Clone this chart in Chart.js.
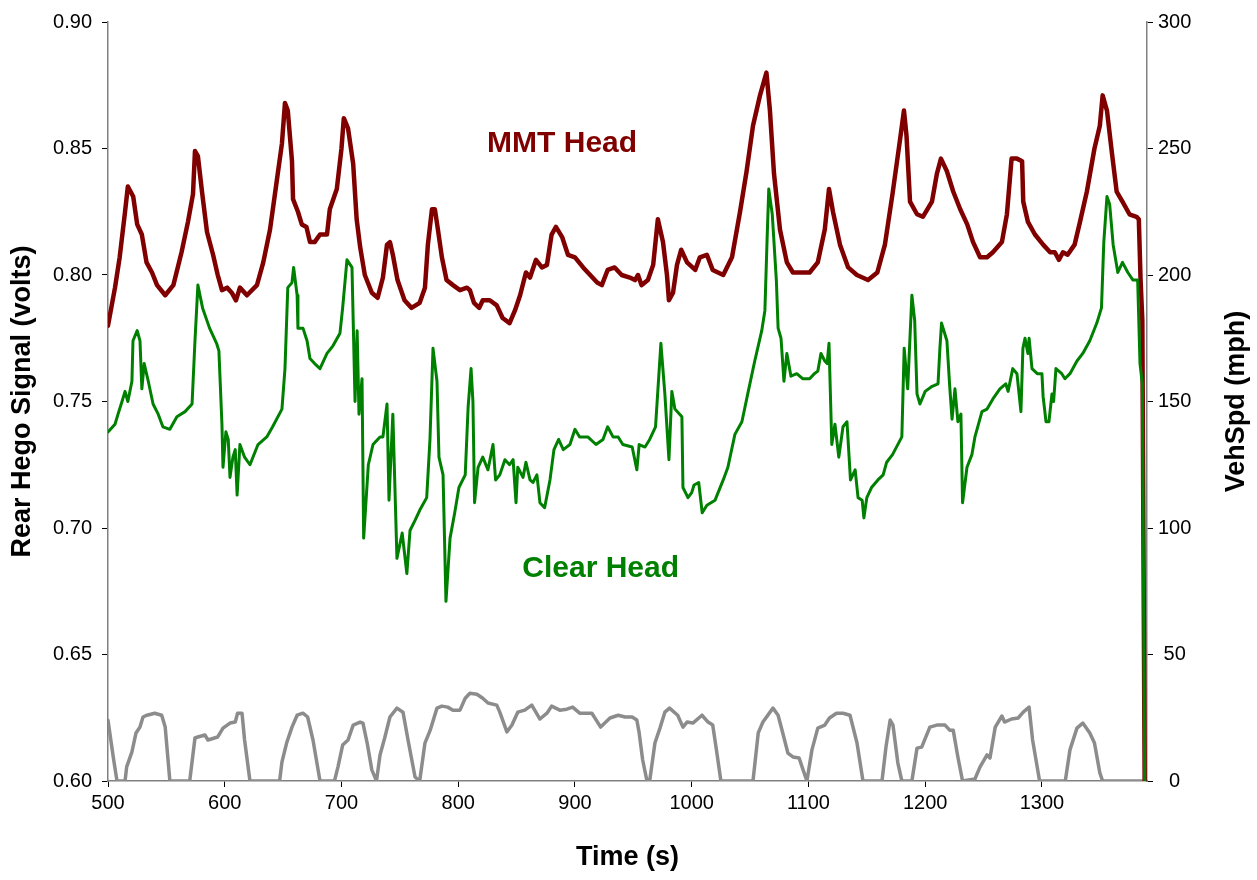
<!DOCTYPE html>
<html>
<head>
<meta charset="utf-8">
<script src="https://cdn.jsdelivr.net/npm/chart.js@4.4.1/dist/chart.umd.min.js"></script>
<style>
  html, body { margin: 0; padding: 0; background: #fff; }
</style>
</head>
<body>
<canvas id="hegoChart" width="1257" height="880"></canvas>
<script>
// axis tick values
var timeTicks = [500, 600, 700, 800, 900, 1000, 1100, 1200, 1300];

// MMT Head rear hego (volts)
var mmtTime = [500, 506, 510, 514.6, 517, 521.6, 525, 529, 533, 537.7, 542, 549, 556, 563, 568.5, 572.8, 574.5, 577, 580.5, 584.8,
  590, 594, 597.6, 602, 606, 609.6, 613, 619, 627.6, 633, 638.8, 644.8, 649, 651.6, 654, 657.6, 658.5, 662.7, 666, 670,
  673, 677, 681.6, 687.6, 690, 696, 700, 702, 705.6, 710, 713, 716, 720, 726, 731, 735.5, 739, 741.5, 744, 748,
  754, 760, 767, 771.5, 774, 777.5, 780, 782.6, 786, 790, 795.5, 801.5, 807.5, 810, 813.5, 818, 821, 827, 833, 838,
  844, 848.6, 853, 858, 861.5, 866.6, 871.7, 876, 880, 883.7, 889, 894, 900, 907, 913, 919, 923, 928, 934, 940,
  947, 951.4, 954, 957, 962.5, 967, 971, 975.4, 978.8, 980.5, 984, 987.4, 991, 996, 1003, 1007, 1013, 1018, 1022.5, 1027,
  1034.5, 1041.4, 1047, 1052.5, 1058.5, 1064, 1067, 1070.5, 1075.6, 1081.5, 1086.7, 1095, 1101, 1108, 1114, 1117.6, 1121, 1127, 1134, 1141.5,
  1151, 1159, 1165.5, 1172, 1178, 1181.8, 1184, 1187, 1193, 1198, 1205.8, 1210, 1213.5, 1218.6, 1224, 1230, 1236, 1241, 1247, 1253,
  1258, 1265.7, 1270, 1274, 1278.6, 1283, 1284, 1288, 1294, 1301, 1307, 1311, 1314.6, 1318, 1322, 1328, 1332.6, 1338.5, 1345, 1349.6,
  1352, 1355.7, 1360, 1364, 1369, 1375, 1381, 1383, 1384.5, 1386, 1388];
var mmtVolts = [0.780, 0.795, 0.807, 0.825, 0.835, 0.831, 0.820, 0.816, 0.805, 0.801, 0.796, 0.792, 0.796, 0.809, 0.821, 0.832, 0.849, 0.847, 0.833, 0.817,
  0.808, 0.800, 0.794, 0.795, 0.793, 0.790, 0.795, 0.792, 0.796, 0.805, 0.818, 0.838, 0.852, 0.868, 0.865, 0.845, 0.830, 0.825, 0.820, 0.819,
  0.813, 0.813, 0.816, 0.816, 0.826, 0.834, 0.850, 0.862, 0.858, 0.844, 0.822, 0.811, 0.800, 0.793, 0.791, 0.799, 0.812, 0.813, 0.808, 0.798,
  0.790, 0.787, 0.789, 0.795, 0.812, 0.826, 0.826, 0.818, 0.807, 0.798, 0.796, 0.794, 0.795, 0.794, 0.789, 0.787, 0.790, 0.790, 0.788, 0.783,
  0.781, 0.786, 0.792, 0.801, 0.799, 0.806, 0.803, 0.804, 0.816, 0.819, 0.815, 0.808, 0.807, 0.803, 0.800, 0.797, 0.796, 0.802, 0.803, 0.800,
  0.799, 0.798, 0.800, 0.796, 0.798, 0.804, 0.822, 0.813, 0.800, 0.790, 0.793, 0.804, 0.810, 0.805, 0.802, 0.807, 0.808, 0.802, 0.801, 0.800,
  0.807, 0.825, 0.841, 0.859, 0.871, 0.880, 0.865, 0.840, 0.818, 0.805, 0.801, 0.801, 0.801, 0.805, 0.818, 0.834, 0.825, 0.812, 0.803, 0.800,
  0.798, 0.801, 0.812, 0.832, 0.852, 0.865, 0.855, 0.829, 0.824, 0.823, 0.829, 0.840, 0.846, 0.841, 0.833, 0.826, 0.820, 0.813, 0.807, 0.807,
  0.809, 0.813, 0.824, 0.846, 0.846, 0.845, 0.829, 0.821, 0.816, 0.812, 0.809, 0.809, 0.806, 0.809, 0.808, 0.812, 0.821, 0.833, 0.850, 0.859,
  0.871, 0.865, 0.848, 0.833, 0.829, 0.824, 0.823, 0.822, 0.798, 0.782, 0.600];

// Clear Head rear hego (volts)
var clearTime = [500, 506, 508.6, 512, 514.6, 517, 520.5, 521.4, 525, 527.4, 529, 531, 534.5, 538.6, 543, 547, 553, 559, 566, 572,
  574.5, 577, 581, 587, 593, 595, 597.6, 598.5, 601, 603, 604.5, 607, 609, 610.6, 613, 617, 621.6, 628.5, 636, 641,
  649, 651.6, 654, 657.6, 659, 662, 662.7, 667, 670.5, 673, 677, 681.6, 687.6, 692.7, 698.7, 701, 704.7, 709, 711.6, 713.4,
  715, 717.6, 719, 723, 727, 733, 735.5, 739, 740.7, 744, 747.5, 752, 756, 758.7, 763, 767, 773, 775.8, 778.4, 781.8,
  783.5, 787, 789.5, 793, 797, 800.6, 806, 808.5, 811, 812.6, 814, 817, 821, 825.5, 829.8, 832, 835.6, 840, 844, 847,
  849.5, 851, 855.5, 858, 861.5, 864, 867.4, 870, 874, 878.6, 882, 886, 890, 895.7, 900, 904, 911, 918, 924, 928,
  932.6, 937, 941, 949, 953, 955, 960, 964, 969, 973.6, 977, 980.5, 983, 985.6, 991.6, 992.5, 996.8, 1000, 1002, 1006,
  1009, 1013, 1020, 1027, 1031, 1037, 1043, 1048, 1054, 1060, 1062.7, 1064.5, 1066, 1069, 1072.5, 1074, 1076.5, 1079, 1081.5, 1085,
  1090, 1095, 1101, 1105, 1108, 1110.7, 1114, 1116, 1117.6, 1120, 1122.7, 1126, 1129.6, 1133, 1136, 1140, 1142.5, 1146, 1147.5, 1150,
  1154, 1159.5, 1164, 1167, 1172, 1180, 1182, 1185, 1188.6, 1191, 1193, 1195.5, 1200, 1206, 1211, 1212.6, 1214, 1218.6, 1221, 1223,
  1225.5, 1228, 1230.6, 1232, 1235.8, 1240, 1242.6, 1245, 1248.6, 1253, 1258, 1264, 1269, 1271, 1275, 1278.6, 1282, 1283.7, 1285.5, 1288,
  1289, 1291.5, 1296, 1300, 1301, 1303.5, 1306, 1308.6, 1310, 1312, 1317, 1319.7, 1324, 1330, 1335, 1341, 1347, 1351, 1353, 1355.7,
  1358, 1361, 1365, 1369, 1373.6, 1378, 1382, 1384, 1386, 1388];
var clearVolts = [0.738, 0.741, 0.745, 0.750, 0.754, 0.750, 0.758, 0.774, 0.778, 0.774, 0.755, 0.765, 0.758, 0.749, 0.745, 0.740, 0.739, 0.744, 0.746, 0.749,
  0.774, 0.796, 0.787, 0.779, 0.773, 0.770, 0.741, 0.724, 0.738, 0.735, 0.720, 0.728, 0.731, 0.713, 0.733, 0.728, 0.725, 0.733, 0.736, 0.740,
  0.747, 0.763, 0.795, 0.797, 0.803, 0.792, 0.779, 0.779, 0.774, 0.767, 0.765, 0.763, 0.769, 0.772, 0.777, 0.787, 0.806, 0.803, 0.750, 0.778,
  0.745, 0.759, 0.696, 0.725, 0.733, 0.736, 0.736, 0.749, 0.711, 0.745, 0.688, 0.698, 0.682, 0.699, 0.703, 0.707, 0.712, 0.735, 0.771, 0.758,
  0.728, 0.721, 0.671, 0.696, 0.706, 0.716, 0.721, 0.748, 0.763, 0.750, 0.710, 0.724, 0.728, 0.723, 0.733, 0.719, 0.721, 0.727, 0.725, 0.727,
  0.710, 0.724, 0.720, 0.726, 0.719, 0.718, 0.721, 0.710, 0.708, 0.719, 0.731, 0.735, 0.731, 0.733, 0.739, 0.736, 0.736, 0.733, 0.735, 0.740,
  0.736, 0.736, 0.733, 0.732, 0.723, 0.733, 0.732, 0.735, 0.740, 0.773, 0.753, 0.727, 0.754, 0.747, 0.744, 0.716, 0.712, 0.714, 0.717, 0.718,
  0.706, 0.709, 0.711, 0.719, 0.724, 0.737, 0.742, 0.753, 0.766, 0.778, 0.786, 0.813, 0.834, 0.824, 0.798, 0.779, 0.775, 0.758, 0.769, 0.760,
  0.761, 0.759, 0.759, 0.761, 0.762, 0.769, 0.766, 0.765, 0.773, 0.733, 0.741, 0.728, 0.740, 0.742, 0.719, 0.723, 0.712, 0.711, 0.704, 0.712,
  0.716, 0.719, 0.721, 0.726, 0.729, 0.736, 0.771, 0.755, 0.792, 0.782, 0.753, 0.749, 0.754, 0.756, 0.757, 0.771, 0.781, 0.774, 0.756, 0.743,
  0.755, 0.742, 0.745, 0.710, 0.724, 0.729, 0.736, 0.740, 0.746, 0.747, 0.751, 0.755, 0.757, 0.754, 0.763, 0.761, 0.746, 0.771, 0.775, 0.769,
  0.775, 0.763, 0.761, 0.761, 0.752, 0.742, 0.742, 0.753, 0.750, 0.763, 0.761, 0.759, 0.761, 0.766, 0.769, 0.774, 0.781, 0.787, 0.813, 0.831,
  0.828, 0.812, 0.801, 0.805, 0.801, 0.798, 0.798, 0.765, 0.757, 0.600];

// vehicle speed (mph), right axis
var speedTime = [500, 504.5, 507.7, 514.6, 516, 520.5, 524, 527.4, 530, 533.4, 540, 546, 549, 553, 570, 574.5, 577, 583, 585.6, 594,
  598.5, 604.5, 609, 611, 614.8, 617, 621.6, 647, 649, 653, 657.6, 662, 667, 671, 675.6, 681.6, 694, 697, 701, 705.6,
  710, 716, 718.4, 722, 726, 730, 733, 737, 741.5, 747.5, 752.7, 757, 763, 767, 771.5, 776, 781.8, 786, 791, 795.5,
  801.5, 806, 810, 816, 821, 825.5, 833, 835.6, 841.7, 846, 851, 857, 863, 870, 876, 880, 887, 893, 898, 904,
  914.5, 922, 930, 937, 943, 949, 953, 955, 958, 961.7, 964, 968.5, 972.8, 977, 981, 988, 992.5, 996, 1001, 1008.8,
  1014, 1018, 1021.6, 1025, 1052.5, 1057, 1061, 1069.6, 1074, 1078, 1082.4, 1086.7, 1092, 1095.4, 1098.7, 1103, 1108, 1114, 1118, 1124,
  1129.6, 1135.6, 1141.6, 1146.7, 1163, 1166.4, 1170, 1172.4, 1176.6, 1180, 1188.6, 1193, 1197, 1204, 1210, 1217, 1221, 1224, 1228, 1232,
  1242.6, 1247, 1253, 1255.5, 1260, 1265.7, 1268, 1274, 1279.6, 1284, 1289, 1292, 1298, 1320, 1324, 1330, 1335, 1341, 1345, 1349.6,
  1352, 1388];
var speedMph = [24, 9.5, 0, 0, 5.6, 11.5, 19, 21.3, 25.3, 26, 26.8, 26, 21.3, 0, 0, 17, 17.4, 18.2, 16.2, 17.4,
  20.9, 22.9, 23.3, 26.8, 26.8, 16.2, 0, 0, 7.5, 15, 21.3, 26, 26.8, 25.3, 16.2, 0, 0, 5.6, 14.2, 16.2,
  22.1, 23.3, 22.9, 15, 4.4, 0, 10.3, 17, 25.3, 28.8, 27.2, 16.2, 1.6, 0, 15, 20.1, 28.8, 29.6, 29.2, 28,
  28, 32.7, 34.7, 34.3, 32.7, 30.8, 30, 27.2, 19.4, 22.1, 27.2, 28, 30, 24.5, 26.8, 29.6, 28, 28.4, 29.2, 26.8,
  26.8, 21.3, 24.9, 26, 25.3, 25.3, 24.1, 19, 8.3, 0, 0, 15, 20.9, 27.2, 28.8, 26, 21.3, 23.3, 22.9, 26,
  23.3, 22.1, 11, 0, 0, 19, 23.3, 28.8, 26, 19, 11, 9.5, 9.1, 4.4, 0, 12.3, 20.9, 22.1, 24.9, 26.8,
  26.8, 26, 15, 0, 0, 13.4, 24.1, 22.1, 7.1, 0, 0, 13, 13.4, 21.3, 22.1, 22.1, 20.1, 20.1, 9.5, 0,
  0.8, 5.6, 10.3, 9.1, 21.3, 25.7, 23.3, 24.5, 24.9, 27.2, 29.2, 16.2, 0, 0, 12.3, 20.9, 22.9, 19, 15, 3.2,
  0, 0];

function toPoints(xs, ys) {
  return xs.map(function (x, i) { return { x: x, y: ys[i] }; });
}

var FONT = 'Liberation Sans, Arial, sans-serif';

// white background + free text (right axis title, series labels)
var chartText = {
  id: 'chartText',
  beforeDraw(chart) {
    const ctx = chart.ctx;
    ctx.save();
    ctx.fillStyle = '#fff';
    ctx.fillRect(0, 0, chart.width, chart.height);
    ctx.restore();
  },
  afterDraw(chart) {
    const { ctx, scales: { x, y } } = chart;
    ctx.save();
    ctx.textAlign = 'center';
    ctx.textBaseline = 'middle';

    // right axis title, reads bottom to top
    ctx.font = `bold 27px ${FONT}`;
    ctx.fillStyle = '#000';
    ctx.translate(1237, chart.chartArea.top + chart.chartArea.height / 2);
    ctx.rotate(-Math.PI / 2);
    ctx.fillText('VehSpd (mph)', 0, 0);
    ctx.restore();

    ctx.save();
    ctx.textAlign = 'center';
    ctx.textBaseline = 'middle';
    ctx.font = `bold 30px ${FONT}`;
    ctx.fillStyle = '#800000';
    ctx.fillText('MMT Head', x.getPixelForValue(889), y.getPixelForValue(0.852));
    ctx.fillStyle = '#008000';
    ctx.fillText('Clear Head', x.getPixelForValue(922), y.getPixelForValue(0.684));
    ctx.restore();
  }
};

var hegoConfig = {
  type: 'line',
  data: {
    datasets: [{
      label: 'Clear Head',
      data: toPoints(clearTime, clearVolts),
      yAxisID: 'y',
      borderColor: '#008000',
      borderWidth: 3,
    }, {
      label: 'MMT Head',
      data: toPoints(mmtTime, mmtVolts),
      yAxisID: 'y',
      borderColor: '#800000',
      borderWidth: 4.5,
    }, {
      label: 'VehSpd',
      data: toPoints(speedTime, speedMph),
      yAxisID: 'y1',
      borderColor: '#8c8c8c',
      borderWidth: 3.5,
    }]
  },
  options: {
    responsive: false,
    animation: false,
    devicePixelRatio: 1,
    layout: { padding: { top: 20, left: 0, right: 0, bottom: 0 } },
    elements: {
      point: { radius: 0 },
      line: { tension: 0, borderJoinStyle: 'round', borderCapStyle: 'round' }
    },
    plugins: {
      legend: { display: false },
      tooltip: { enabled: false }
    },
    scales: {
      x: {
        type: 'linear',
        min: 500,
        max: 1390,
        // use fixed ticks every 100 s, the axis itself runs to 1390
        afterBuildTicks(scale) {
          scale.ticks = timeTicks.map(v => ({ value: v }));
        },
        afterFit(scale) { scale.height = 99; },
        ticks: {
          autoSkip: false, maxRotation: 0, minRotation: 0, color: '#000', padding: 4,
          font: { family: FONT, size: 20 },
          callback: v => String(v)
        },
        grid: { drawOnChartArea: false, tickLength: 6, color: '#000' },
        border: { color: '#808080', width: 1.5 },
        title: {
          display: true, text: 'Time (s)', color: '#000',
          font: { family: FONT, size: 27, weight: 'bold' },
          padding: { top: 0, bottom: 6 }
        }
      },
      y: {
        position: 'left',
        min: 0.6,
        max: 0.9,
        afterFit(scale) { scale.width = 108; },
        ticks: {
          stepSize: 0.05, color: '#000', padding: 10,
          font: { family: FONT, size: 20 },
          callback: v => Number(v).toFixed(2)
        },
        grid: { drawOnChartArea: false, tickLength: 6, color: '#000' },
        border: { color: '#808080', width: 1.5 },
        title: {
          display: true, text: 'Rear Hego Signal (volts)', color: '#000',
          font: { family: FONT, size: 27, weight: 'bold' },
          padding: { top: 6, bottom: 0 }
        }
      },
      y1: {
        position: 'right',
        min: 0,
        max: 300,
        afterFit(scale) { scale.width = 110; },
        ticks: { stepSize: 50, color: '#000', padding: 5, crossAlign: 'center', font: { family: FONT, size: 20 } },
        grid: { drawOnChartArea: false, tickLength: 6, color: '#000' },
        border: { color: '#808080', width: 1.5 }
      }
    }
  },
  plugins: [chartText]
};

var hegoChart = new Chart(document.getElementById('hegoChart'), hegoConfig);
</script>
</body>
</html>
